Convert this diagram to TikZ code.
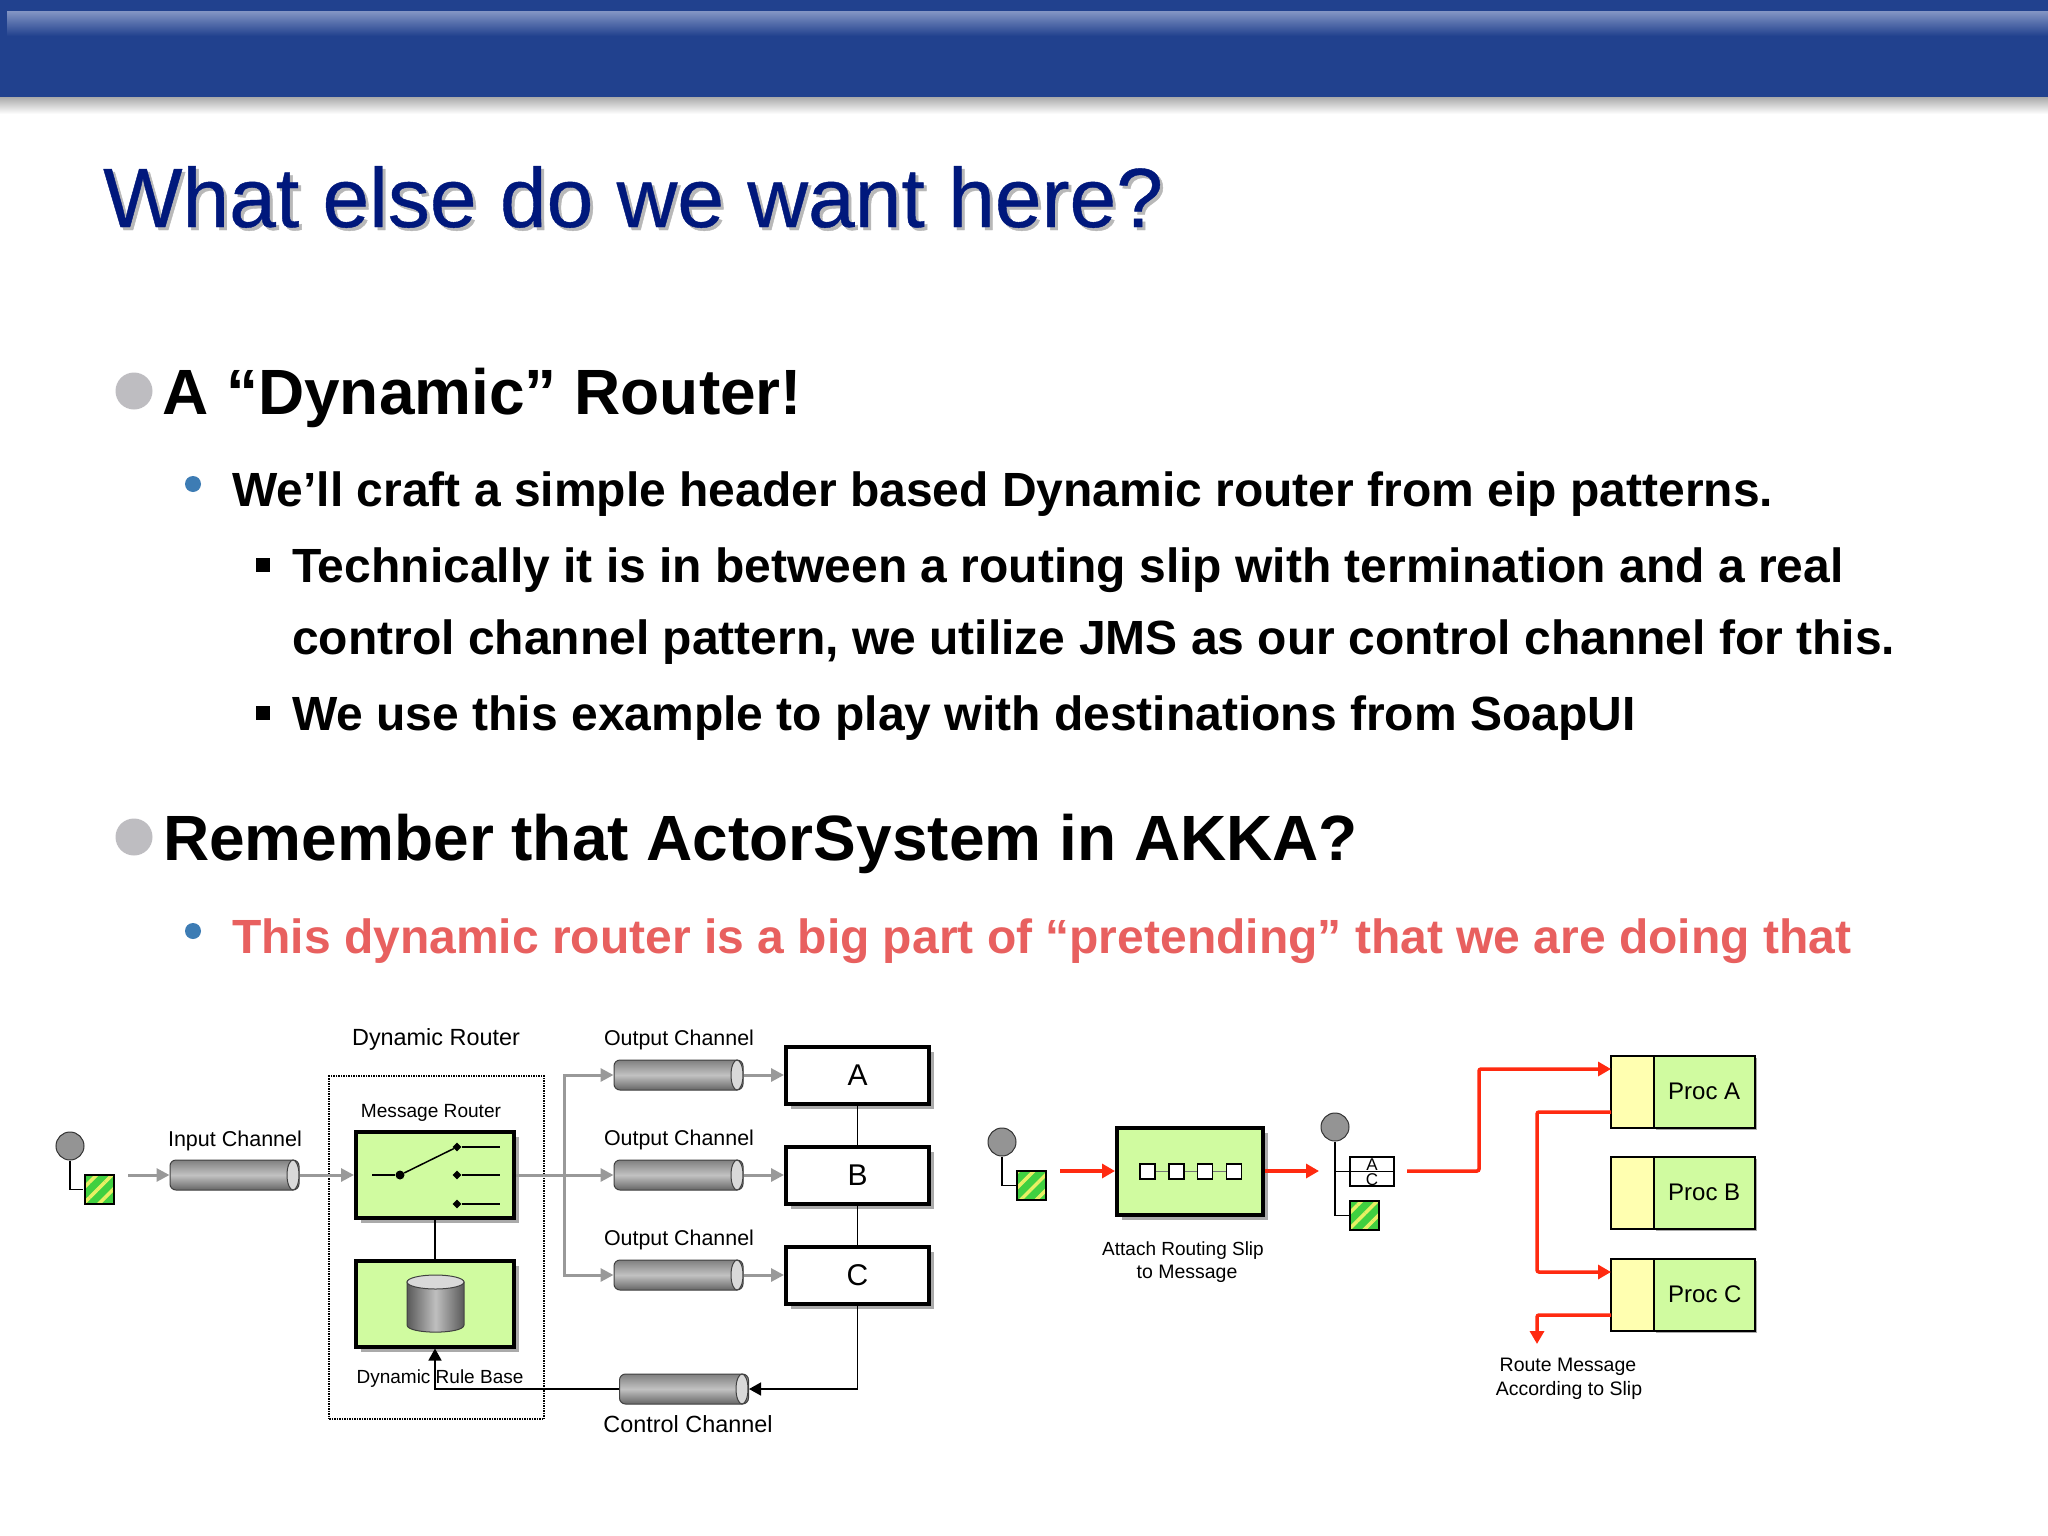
\documentclass[tikz,border=0pt]{standalone}
\usepackage{fontspec}
\setmainfont{Liberation Sans}
\newfontfamily\titlefont[FakeBold=0.5]{Liberation Sans}
\usepackage{xcolor}
\usetikzlibrary{arrows.meta, patterns.meta, shadows, shapes.geometric}
\definecolor{headBlue}{RGB}{33, 65, 142}
\definecolor{headLight}{RGB}{128, 146, 194}
\definecolor{titleBlue}{RGB}{0, 24, 124}
\definecolor{bulletGray}{RGB}{190, 189, 193}
\definecolor{bulletBlue}{RGB}{61, 124, 180}
\definecolor{alertRed}{RGB}{232, 96, 95}
\definecolor{boxGreen}{RGB}{208, 251, 160}
\definecolor{boxYellow}{RGB}{255, 255, 176}
\definecolor{flowGray}{RGB}{153, 153, 153}
\definecolor{flowRed}{RGB}{255, 42, 16}
\definecolor{shadeGray}{RGB}{170, 170, 170}
\definecolor{stripeGreen}{RGB}{64, 208, 64}
\definecolor{stripeYellow}{RGB}{232, 240, 100}
\tikzset{
  slidetext/.style={anchor=base west, inner sep=0pt, font=\fontsize{#1}{#1}\selectfont\bfseries},
  titletext/.style={anchor=base west, inner sep=0pt, font=\titlefont\fontsize{84}{84}\selectfont},
  smalltext/.style={anchor=base, inner sep=0pt, font=\fontsize{#1}{#1}\selectfont},
  filterbox/.style={draw=black, line width=4pt, fill=boxGreen, minimum width=158pt, minimum height=86pt,
    inner sep=0pt, general shadow={shadow xshift=5pt, shadow yshift=-5pt, fill=shadeGray}},
  letterbox/.style={draw=black, line width=4pt, fill=white, minimum width=143pt, minimum height=57pt,
    inner sep=0pt, font=\fontsize{30}{30}\selectfont,
    general shadow={shadow xshift=5pt, shadow yshift=-5pt, fill=shadeGray}},
  pipe/.style={draw=black!75, line width=1pt, rounded corners=6pt, minimum width=129pt, minimum height=30pt,
    inner sep=0pt, top color=black!50, bottom color=black!60, middle color=black!24},
  pipecap/.style={draw=black!75, line width=1pt, fill=black!15},
  sender/.style={circle, draw=black!80, line width=1pt, fill=black!42, minimum size=28pt, inner sep=0pt},
  msgsquare/.style={draw=black, line width=1.5pt, minimum size=29pt, inner sep=0pt,
    preaction={fill=stripeGreen}, pattern={Lines[angle=45, distance=11pt, line width=3.5pt]},
    pattern color=stripeYellow},
  slotsquare/.style={draw=black, line width=1.5pt, fill=white, minimum size=15pt, inner sep=0pt},
  procgreen/.style={draw=black, line width=1.5pt, fill=boxGreen, minimum width=101pt, minimum height=72pt,
    inner sep=0pt, font=\fontsize{24}{24}\selectfont,
    general shadow={shadow xshift=2pt, shadow yshift=-2pt, fill=shadeGray}},
  procyellow/.style={draw=black, line width=1.5pt, fill=boxYellow, minimum width=43pt, minimum height=72pt,
    inner sep=0pt},
  grayflow/.style={draw=flowGray, line width=3pt, -{Triangle[length=13pt, width=13pt]}},
  redflow/.style={draw=flowRed, line width=3.5pt, rounded corners=2pt, -{Triangle[length=13pt, width=14pt]}},
  blackline/.style={draw=black, line width=1.5pt},
  blackflow/.style={draw=black, line width=1.5pt, -{Triangle[length=12pt, width=13pt]}},
  contact/.style={diamond, fill=black, minimum size=9pt, inner sep=0pt}
}

\begin{document}
\begin{tikzpicture}[x=1pt, y=-1pt, >=Stealth]
  \useasboundingbox (0,0) rectangle (2048,1536);
  \fill[white] (0,0) rectangle (2048,1536);

  % Header band
  \shade[top color=shadeGray, bottom color=white] (0,97) rectangle (2048,114);
  \fill[headBlue] (0,0) rectangle (2048,97);
  \shade[top color=headLight, bottom color=headBlue] (7,12) rectangle (2048,36);

  % Title
  \node[titletext, black!28] (titleshade) at (106,230) {What else do we want here?};
  \node[titletext, titleBlue] (title) at (103,227) {What else do we want here?};

  % Bullets
  \fill[bulletGray] (134,391) circle (18.5);
  \fill[bulletGray] (134,837) circle (18.5);
  \fill[bulletBlue] (193,484) circle (8);
  \fill[bulletBlue] (193,931) circle (8);
  \fill[black] (256,558) rectangle (270,572);
  \fill[black] (256,706) rectangle (270,720);

  % Slide text
  \node[slidetext=64] (topicA) at (162,414) {A “Dynamic” Router!};
  \node[slidetext=48] (lineA) at (232,506) {We’ll craft a simple header based Dynamic router from eip patterns.};
  \node[slidetext=48] (lineB) at (292,582) {Technically it is in between a routing slip with termination and a real};
  \node[slidetext=48] (lineC) at (292,654) {control channel pattern, we utilize JMS as our control channel for this.};
  \node[slidetext=48] (lineD) at (292,730) {We use this example to play with destinations from SoapUI};
  \node[slidetext=64] (topicB) at (163,860) {Remember that ActorSystem in AKKA?};
  \node[slidetext=48, alertRed] (lineE) at (232,953) {This dynamic router is a big part of “pretending” that we are doing that};

  % Dynamic router group
  \node[draw=black, densely dotted, line width=1.5pt, minimum width=215pt, minimum height=343pt, inner sep=0pt]
    (dyngroup) at (436.5,1247.5) {};
  \node[smalltext=23.4] (dyntitle) at (436,1045) {Dynamic Router};
  \node[smalltext=19.1] (msgtitle) at (431,1117) {Message Router};
  \node[smalltext=19] (ruletitle) at (440,1383) {Dynamic Rule Base};
  \node[filterbox] (router) at (435,1175) {};
  \node[filterbox] (rulebase) at (435,1303.5) {};

  % Switch inside router
  \coordinate (swin) at (372,1175);
  \node[circle, fill=black, minimum size=9pt, inner sep=0pt] (pivot) at (400,1175) {};
  \draw[blackline] (swin) -- (pivot);
  \foreach \y/\name in {1147/swa, 1175/swb, 1204/swc} {
    \node[contact] (\name) at (457,\y) {};
    \coordinate (\name end) at (500,\y);
    \draw[blackline] (\name) -- (\name end);
  }
  \draw[blackline] (pivot) -- (swa);

  % Rule base drum
  \draw[draw=black!75, line width=1pt, left color=black!65, right color=black!65, middle color=black!25]
    (407,1282) -- (407,1325) .. controls (407,1334.5) and (464,1334.5) .. (464,1325) -- (464,1282) -- cycle;
  \draw[pipecap] (435.5,1282) ellipse[x radius=28.5, y radius=7];

  % Input side
  \node[sender] (senderA) at (70,1146) {};
  \node[msgsquare] (msgA) at (99.5,1189.5) {};
  \draw[blackline] (senderA.south) |- (msgA.west);
  \node[smalltext=21.5] (inlabel) at (235,1146) {Input Channel};
  \node[pipe] (inpipe) at (234.5,1175) {};
  \draw[pipecap] (293,1175) ellipse[x radius=6, y radius=15];
  \coordinate (infree) at (128,1175);
  \draw[grayflow] (infree) -- (inpipe.west);
  \draw[grayflow] (inpipe.east) -- (router.west);

  % Output channels and recipients
  \coordinate (branch) at (564,1175);
  \foreach \y/\name/\txt in {1075/A/A, 1175/B/B, 1275/C/C} {
    \node[smalltext=21.4] (label\name) at (679,\y-30) {Output Channel};
    \node[pipe] (pipe\name) at (678.5,\y) {};
    \draw[pipecap] (737,\y) ellipse[x radius=6, y radius=15];
    \node[letterbox] (box\name) at (857.5,\y) {\txt};
    \draw[grayflow] (pipe\name.east) -- (box\name.west);
  }
  \draw[grayflow] (router.east) -- (pipeB.west);
  \draw[grayflow] (branch) |- (pipeA.west);
  \draw[grayflow] (branch) |- (pipeC.west);
  \draw[blackline] (boxA.south) -- (boxB.north);
  \draw[blackline] (boxB.south) -- (boxC.north);

  % Control channel
  \node[pipe] (ctrlpipe) at (684,1389) {};
  \draw[pipecap] (742,1389) ellipse[x radius=6, y radius=15];
  \node[smalltext=23.4] (ctrllabel) at (688,1432) {Control Channel};
  \draw[blackflow] (boxC.south) |- (ctrlpipe.east);
  \draw[blackflow] (ctrlpipe.west) -| (rulebase.south);
  \draw[blackline] (router.south) -- (rulebase.north);

  % Routing slip filter
  \node[sender] (senderB) at (1002,1142) {};
  \node[msgsquare] (msgB) at (1031.5,1185.5) {};
  \draw[blackline] (senderB.south) |- (msgB.west);
  \coordinate (slipfree) at (1060,1171);
  \node[filterbox, minimum width=146pt, minimum height=87pt] (attach) at (1190,1171) {};
  \foreach \x/\name in {1147.5/slotA, 1176.5/slotB, 1205/slotC, 1234/slotD}
    \node[slotsquare] (\name) at (\x,1171.5) {};
  \draw[line width=1.5pt, draw=black!55] (slotA) -- (slotB);
  \draw[line width=1.5pt, draw=black!55] (slotB) -- (slotC);
  \draw[line width=1.5pt, draw=black!55] (slotC) -- (slotD);
  \draw[redflow] (slipfree) -- (attach.west);
  \node[smalltext=19] (attachA) at (1183,1255) {Attach Routing Slip};
  \node[smalltext=19.5] (attachB) at (1187,1278) {to Message};

  % Message with slip
  \node[sender] (senderC) at (1335,1127) {};
  \node[msgsquare] (msgC) at (1364.5,1215.5) {};
  \node[draw=black, line width=1.5pt, minimum width=44pt, minimum height=29pt, inner sep=0pt] (slip) at (1372,1171.5) {};
  \node[smalltext=17] (slipA) at (1372,1170) {A};
  \node[smalltext=17] (slipC) at (1372,1185) {C};
  \draw[blackline] (senderC.south) |- (msgC.west);
  \draw[blackline] (senderC.south |- slip.west) -- (slip.east);
  \coordinate (slipin) at (1319,1171);
  \draw[redflow] (attach.east) -- (slipin);

  % Processors
  \foreach \y/\name/\txt in {1092/A/Proc A, 1193/B/Proc B, 1295/C/Proc C} {
    \node[procgreen] (proc\name) at (1704.5,\y) {};
    \node[procyellow] (door\name) at (1632.5,\y) {};
    \node[anchor=base west, inner sep=0pt, font=\fontsize{24}{24}\selectfont] (name\name) at (1668,\y+7) {\txt};
  }
  \coordinate (slipout) at (1407,1171);
  \coordinate (slipbend) at (1479,1171);
  \coordinate (procAin) at (1611,1069);
  \coordinate (procAout) at (1611,1112);
  \coordinate (procCin) at (1611,1272);
  \coordinate (procCout) at (1611,1315);
  \coordinate (returnA) at (1537,1112);
  \coordinate (exitC) at (1537,1344);
  \draw[redflow] (slipout) -- (slipbend) |- (procAin);
  \draw[redflow] (procAout) -- (returnA) |- (procCin);
  \draw[redflow] (procCout) -| (exitC);
  \node[smalltext=19.5] (routeA) at (1568,1371) {Route Message};
  \node[smalltext=19.5] (routeB) at (1569,1395) {According to Slip};
\end{tikzpicture}
\end{document}
